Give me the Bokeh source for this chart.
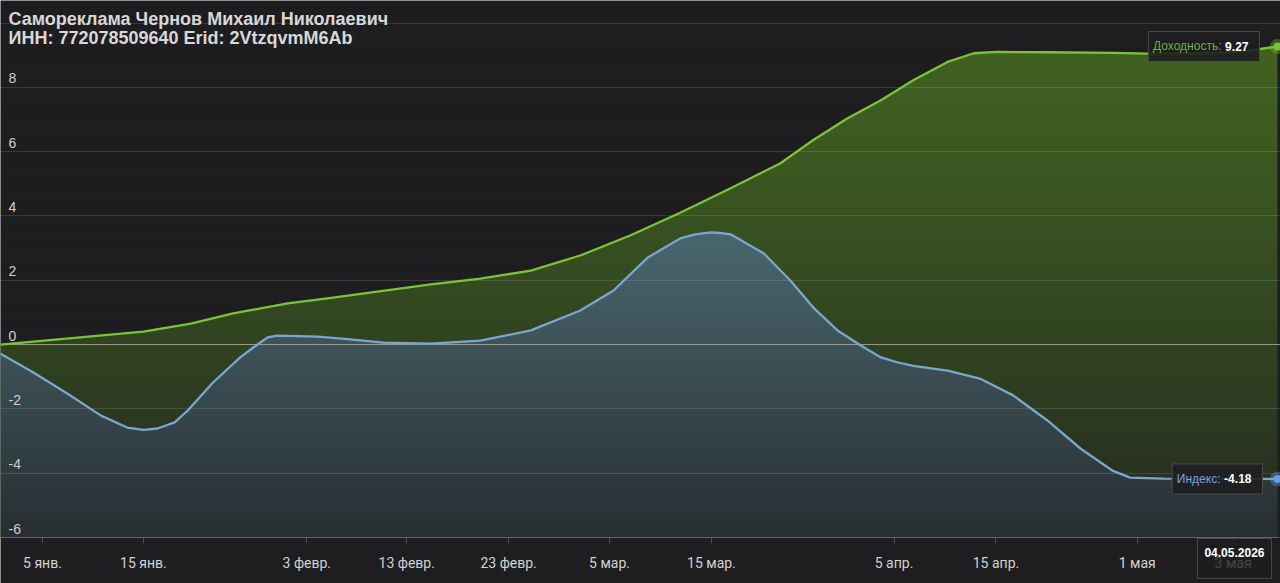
import numpy as np
from bokeh.plotting import figure
from bokeh.models import Range1d, FixedTicker, Label
from bokeh.embed import file_html
from bokeh.resources import INLINE

# ---------------- data ----------------
title_line1 = "Самореклама Чернов Михаил Николаевич"
title_line2 = "ИНН: 772078509640 Erid: 2VtzqvmM6Ab"

# x = position on the time scale (0 = 5 янв.)
yield_x = [-4.2, 10.0, 14.7, 18.9, 24.3, 28.8, 38.5, 43.4, 48.4, 53.3, 58.3, 63.2, 68.2,
           73.1, 76.4, 79.8, 83.1, 86.3, 89.7, 92.3, 94.6, 99.6, 106.1, 109.5,
           114.8, 118.7, 122.4]
yield_y = [0.00, 0.40, 0.65, 0.97, 1.28, 1.46, 1.87, 2.05, 2.30, 2.77, 3.40, 4.10, 4.86,
           5.63, 6.36, 7.04, 7.60, 8.22, 8.79, 9.06, 9.10, 9.09, 9.07, 9.05,
           9.06, 9.10, 9.27]

index_x = [-4.2, -0.9, 2.5, 5.8, 8.4, 10.0, 11.4, 13.1, 14.4, 16.9, 19.6, 20.9, 22.3,
           23.3, 27.3, 30.5, 33.8, 38.5, 43.4, 48.4, 53.3, 56.6, 60.0, 63.2, 64.7,
           66.2, 67.2, 68.2, 71.5, 74.1, 76.4, 78.8, 81.1, 83.1, 84.7, 86.3, 89.7,
           93.0, 96.2, 99.6, 102.9, 106.1, 107.8, 111.1, 122.4]
index_y = [-0.28, -0.87, -1.53, -2.21, -2.58, -2.65, -2.61, -2.42, -2.05, -1.18, -0.40,
           -0.09, 0.22, 0.28, 0.25, 0.16, 0.06, 0.03, 0.12, 0.44, 1.06, 1.68, 2.71,
           3.30, 3.43, 3.49, 3.47, 3.43, 2.83, 2.00, 1.15, 0.44, -0.03, -0.40, -0.55,
           -0.66, -0.81, -1.07, -1.58, -2.36, -3.24, -3.93, -4.14, -4.17, -4.18]

tick_pos = [0, 10, 26.2, 36.1, 46.2, 56.2, 66.3, 84.4, 94.5, 108.5, 118.0]
tick_labels = ["5 янв.", "15 янв.", "3 февр.", "13 февр.", "23 февр.", "5 мар.",
               "15 мар.", "5 апр.", "15 апр.", "1 мая", "3 мая"]
y_ticks = [-6, -4, -2, 0, 2, 4, 6, 8]
grid_values = [-4, -2, 2, 4, 6, 8, 10]
last_date = "04.05.2026"
yield_name = "Доходность"
index_name = "Индекс"

# ---------------- style ----------------
BG = "#1e1e20"
BG_RGB = (30, 30, 32)
GREEN_LINE = "#7dc337"
GREEN_FILL = (66, 100, 34)
BLUE_LINE = "#7aa6cf"
BLUE_FILL = (90, 130, 140)
W, H, AXIS_H = 1280, 583, 46
X0, X1 = -4.16, 122.7
Y0, Y1 = -6.0, 10.7                      # chart area (above the time axis)
PX_PER_UNIT = (H - AXIS_H) / (Y1 - Y0)
YB = Y0 - AXIS_H / PX_PER_UNIT           # room for the time axis

p = figure(width=W, height=H, output_backend="svg", toolbar_location=None,
           x_range=Range1d(X0, X1), y_range=Range1d(YB, Y1),
           y_axis_location=None, min_border_left=0, min_border_right=0,
           min_border_top=0, min_border_bottom=0)
p.background_fill_color = BG
p.border_fill_color = BG
p.outline_line_color = None
p.grid.visible = False

# areas
p.varea(x=yield_x, y1=yield_y, y2=[Y0] * len(yield_x), fill_color=GREEN_FILL)
p.varea(x=index_x, y1=index_y, y2=[Y0] * len(index_x), fill_color=BLUE_FILL)

# vertical fade toward the bottom (gradient imitation) as an RGBA image
N = H - AXIS_H
img = np.empty((N, 1), dtype=np.uint32)
view = img.view(dtype=np.uint8).reshape((N, 1, 4))
rows = np.arange(N)
t = 1.0 - (rows + 0.5) / N          # 0 at top, 1 at bottom
view[:, 0, 0] = BG_RGB[0]
view[:, 0, 1] = BG_RGB[1]
view[:, 0, 2] = BG_RGB[2]
view[:, 0, 3] = np.round(255 * 0.85 * t ** 1.3).astype(np.uint8)
p.image_rgba(image=[img], x=X0, y=Y0, dw=X1 - X0, dh=Y1 - Y0)

# grid lines
p.hspan(y=grid_values, line_color="white", line_alpha=0.12, line_width=1)
p.hspan(y=[0], line_color="#b8b8a8", line_alpha=0.75, line_width=1.2)

# lines
p.line(yield_x, yield_y, line_color=GREEN_LINE, line_width=2.3, line_join="round")
p.line(index_x, index_y, line_color=BLUE_LINE, line_width=2.3, line_join="round")

# end markers
p.scatter([yield_x[-1]], [yield_y[-1]], size=15, fill_color=GREEN_LINE,
          fill_alpha=0.35, line_color=None)
p.scatter([yield_x[-1]], [yield_y[-1]], size=8, fill_color=GREEN_LINE, line_color=None)
p.scatter([index_x[-1]], [index_y[-1]], size=15, fill_color="#6b9be0",
          fill_alpha=0.35, line_color=None)
p.scatter([index_x[-1]], [index_y[-1]], size=8, fill_color="#6b9be0", line_color=None)

# x axis, pinned at the bottom of the chart area
ax = p.xaxis[0]
ax.fixed_location = Y0
ax.ticker = FixedTicker(ticks=tick_pos)
ax.major_label_overrides = {t: l for t, l in zip(tick_pos, tick_labels)}
ax.axis_line_color = "white"
ax.axis_line_alpha = 0.2
ax.major_tick_line_color = "white"
ax.major_tick_line_alpha = 0.2
ax.major_tick_out = 6
ax.major_tick_in = 0
ax.minor_tick_line_color = None
ax.major_label_text_color = "#d2d2d2"
ax.major_label_text_font = "Roboto"
ax.major_label_text_font_size = "14px"
ax.major_label_standoff = 11

# y tick labels drawn inside the plot
for v in y_ticks:
    p.add_layout(Label(x=8, x_units="screen", y=v, y_offset=4, text=str(v),
                       text_color="#d0d0d0", text_font="Liberation Sans",
                       text_font_size="14px", text_baseline="bottom"))

# title
p.add_layout(Label(x=8, y=Y1, x_units="screen", y_offset=-18, text=title_line1,
                   text_color="#d8d8d8", text_font="Liberation Sans",
                   text_font_style="bold", text_font_size="18px",
                   text_baseline="middle"))
p.add_layout(Label(x=8, y=Y1, x_units="screen", y_offset=-37, text=title_line2,
                   text_color="#d8d8d8", text_font="Liberation Sans",
                   text_font_style="bold", text_font_size="18px",
                   text_baseline="middle"))


def value_box(xv, yv, name, val, name_color, box_off, val_w):
    txt_val = f"{val:.2f}"
    # box (anchor = right edge of the padded box), text made invisible
    p.add_layout(Label(x=xv, y=yv, x_offset=box_off, text=f"{name}: {txt_val}",
                       text_align="right", text_baseline="middle",
                       text_font="Liberation Sans", text_font_size="12px",
                       text_color=BG, text_alpha=0.02, background_fill_color=BG,
                       background_fill_alpha=0.9, border_line_color="#4a4a4e",
                       border_line_width=1, padding=8, level="overlay"))
    val_off = box_off - 11
    p.add_layout(Label(x=xv, y=yv, x_offset=val_off - val_w, text=f"{name}:",
                       text_align="right", text_baseline="middle",
                       text_font="Liberation Sans", text_font_size="12px",
                       text_color=name_color, level="overlay"))
    p.add_layout(Label(x=xv, y=yv, x_offset=val_off, text=txt_val,
                       text_align="right", text_baseline="middle",
                       text_font="Liberation Sans", text_font_size="12px",
                       text_font_style="bold", text_color="white", level="overlay"))


value_box(yield_x[-1], yield_y[-1], yield_name, yield_y[-1], "#6fae38", -18, 27)
value_box(index_x[-1], index_y[-1], index_name, index_y[-1], "#7d9ee0", -15, 31)

# last date box over the time axis
p.add_layout(Label(x=index_x[-1], y=Y0, x_offset=-6, y_offset=-1,
                   text=last_date + "\n\u00a0", text_align="right",
                   text_baseline="top", text_line_height=0.85,
                   text_font="Liberation Sans", text_font_size="12px",
                   text_font_style="bold", text_color="white",
                   background_fill_color=BG, background_fill_alpha=0.78,
                   border_line_color="#4a4a4e", padding=7, level="overlay"))

open("out.html", "w").write(file_html(p, INLINE))
